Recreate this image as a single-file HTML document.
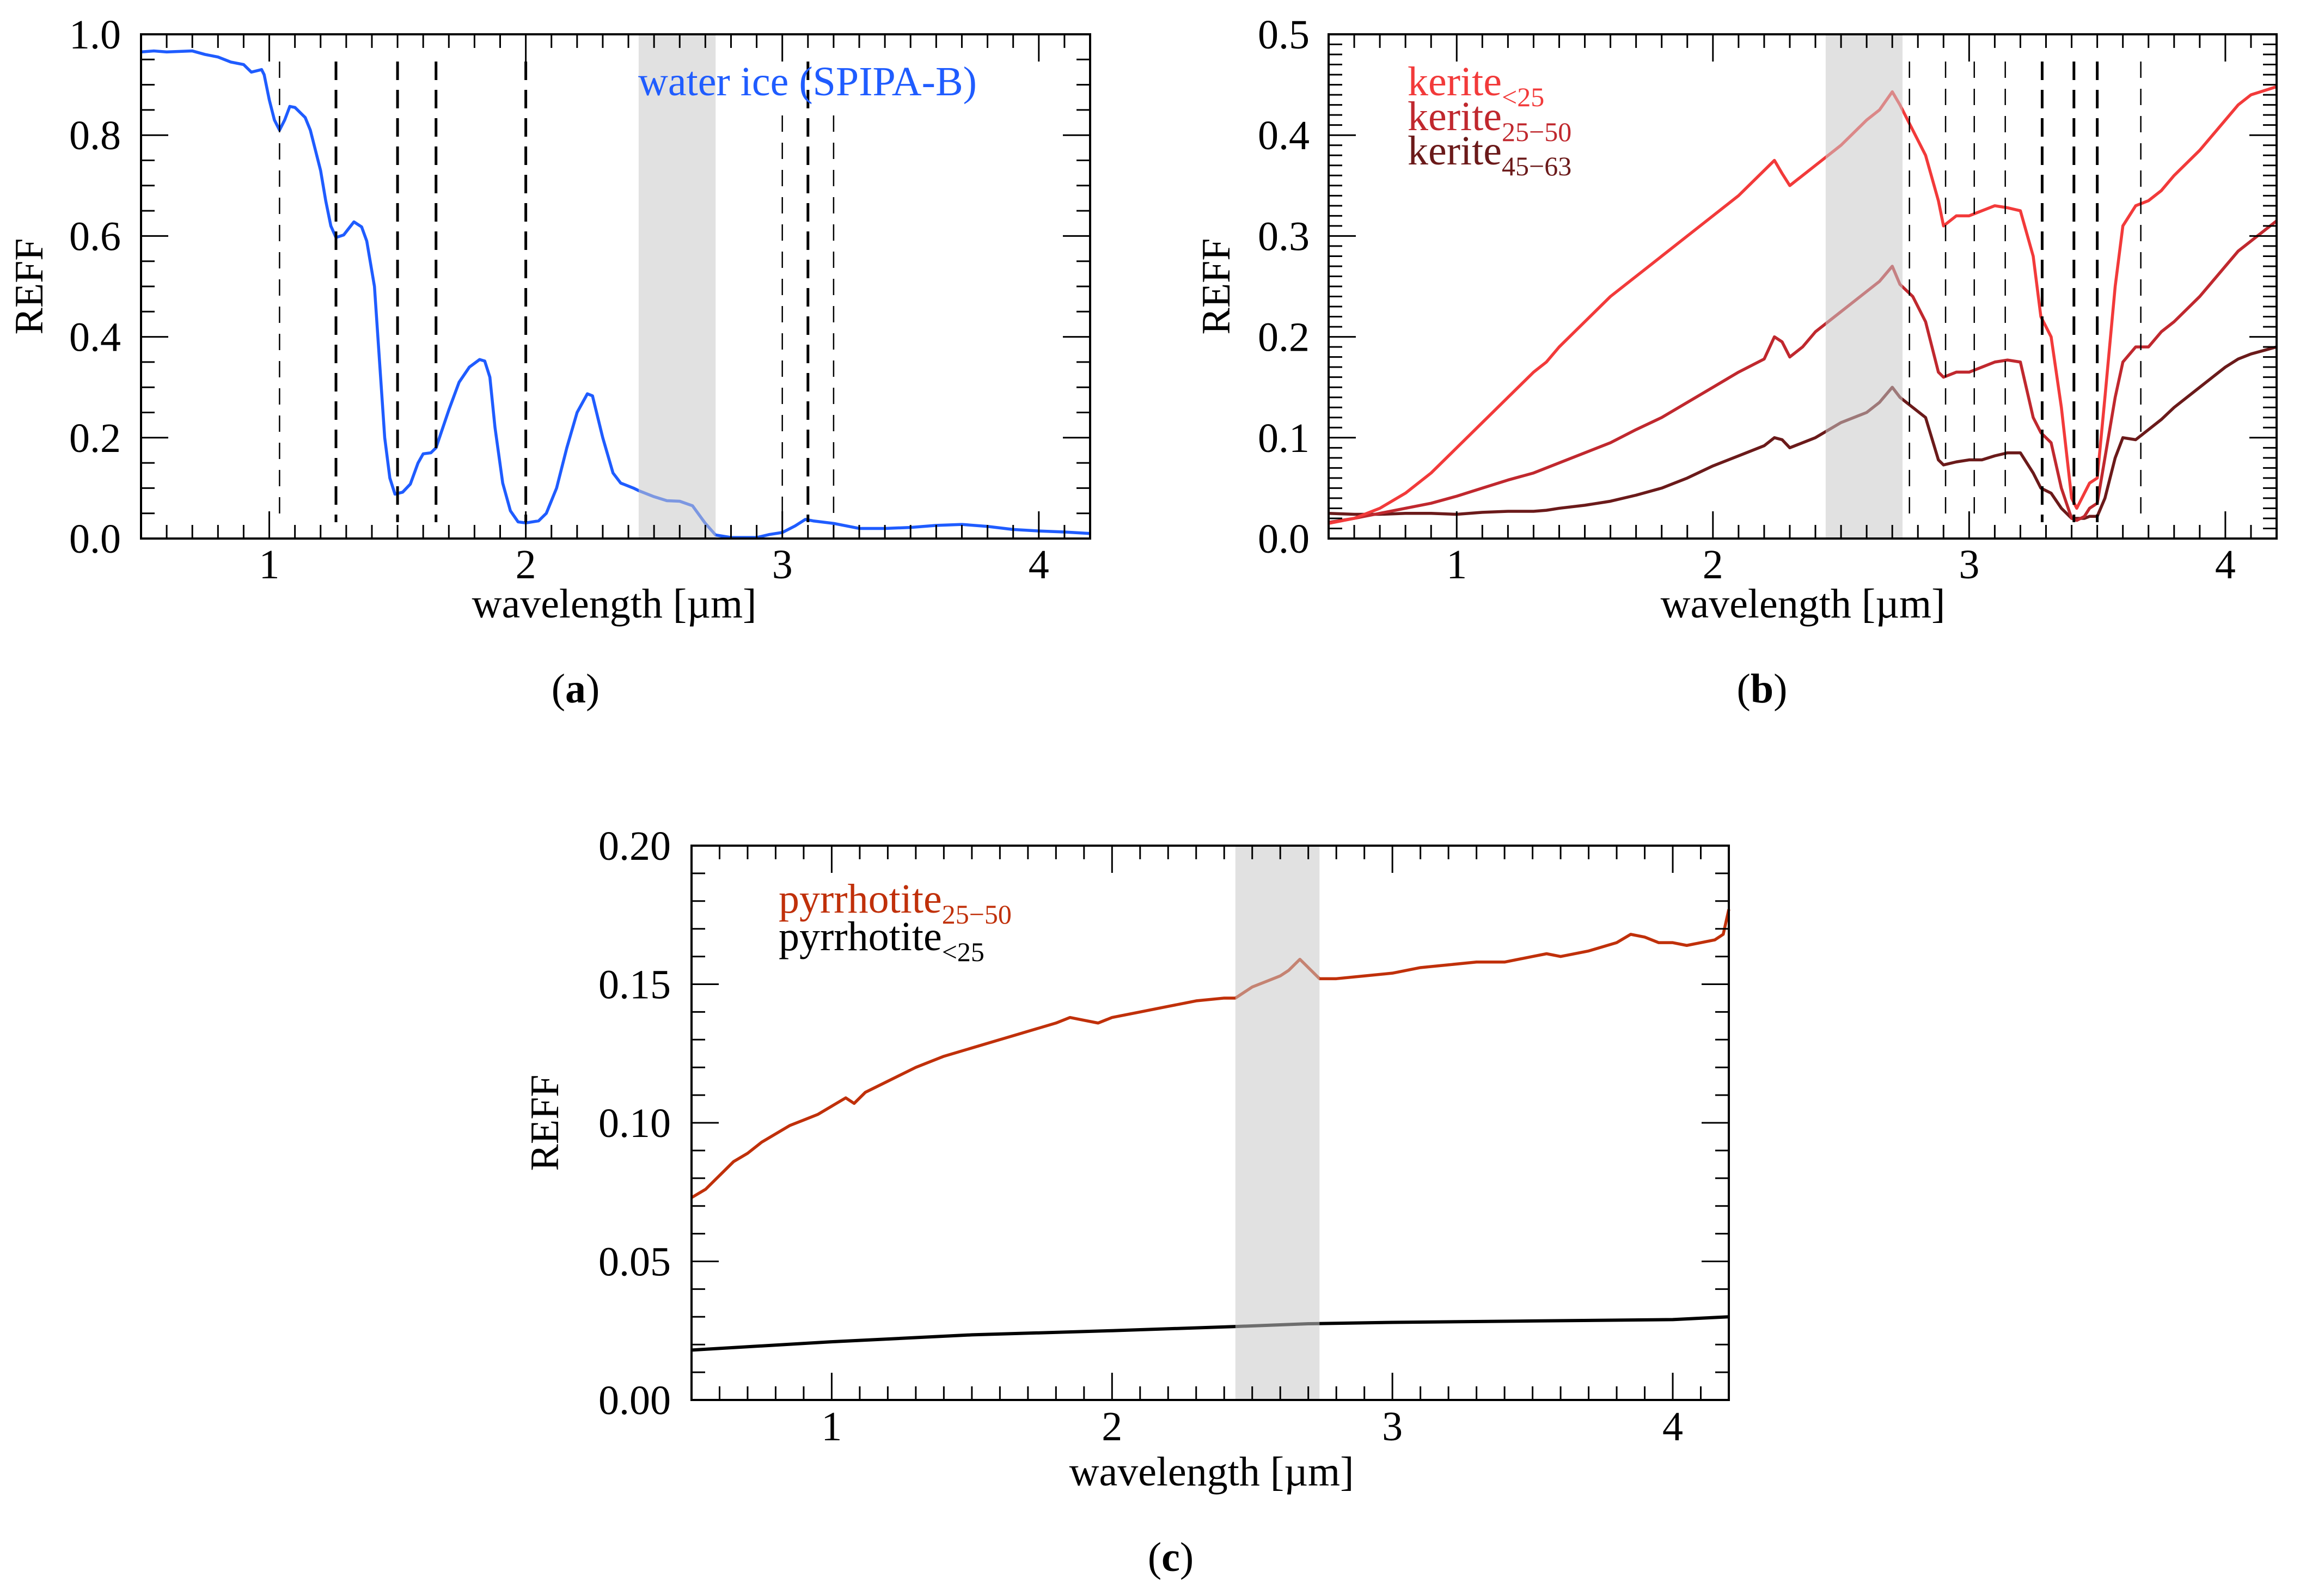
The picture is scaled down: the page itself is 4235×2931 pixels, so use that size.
<!DOCTYPE html>
<html><head><meta charset="utf-8"><style>
html,body{margin:0;padding:0;background:#fff;}
svg{display:block;font-family:"Liberation Serif",serif;}
</style></head><body>
<svg id="fig" width="4235" height="2931" viewBox="0 0 4235 2931" xmlns="http://www.w3.org/2000/svg"></svg>
<script>
// ---- data ----
const waterX=[0.5,0.55,0.6,0.7,0.75,0.8,0.85,0.9,0.93,0.97,0.98,1.0,1.02,1.04,1.06,1.08,1.1,1.14,1.16,1.2,1.22,1.24,1.26,1.29,1.33,1.36,1.38,1.41,1.43,1.45,1.47,1.49,1.52,1.55,1.58,1.6,1.63,1.65,1.7,1.74,1.78,1.82,1.84,1.86,1.88,1.91,1.94,1.97,2.0,2.05,2.08,2.12,2.16,2.2,2.24,2.26,2.3,2.34,2.37,2.42,2.44,2.5,2.55,2.6,2.65,2.7,2.74,2.8,2.9,2.95,3.0,3.05,3.09,3.12,3.2,3.3,3.4,3.5,3.6,3.7,3.8,3.9,4.0,4.1,4.2];
const waterY=[.965,.967,.965,.967,.96,.955,.945,.94,.925,.93,.92,.87,.83,.81,.83,.857,.855,.835,.81,.73,.67,.62,.597,.602,.628,.618,.59,.5,.35,.2,.12,.088,.092,.108,.15,.168,.17,.18,.255,.31,.34,.355,.352,.32,.22,.11,.055,.033,.031,.035,.05,.1,.18,.25,.287,.283,.2,.13,.11,.1,.095,.083,.075,.074,.065,.03,.007,.002,.002,.008,.012,.025,.038,.035,.03,.02,.02,.022,.026,.028,.024,.018,.015,.013,.01];
const keriteX=[0.5,0.6,0.7,0.8,0.9,1.0,1.1,1.2,1.3,1.35,1.4,1.5,1.6,1.7,1.8,1.9,2.0,2.1,2.2,2.24,2.27,2.3,2.35,2.4,2.5,2.6,2.65,2.7,2.73,2.78,2.83,2.88,2.9,2.95,3.0,3.05,3.1,3.15,3.2,3.25,3.28,3.32,3.36,3.4,3.42,3.45,3.47,3.5,3.53,3.57,3.6,3.65,3.7,3.75,3.8,3.9,4.0,4.05,4.1,4.2];
const kerite25=[.015,.02,.03,.045,.065,.09,.115,.14,.165,.175,.19,.215,.24,.26,.28,.3,.32,.34,.365,.375,.362,.35,.36,.37,.39,.415,.425,.443,.43,.405,.38,.335,.31,.32,.32,.325,.33,.328,.325,.28,.22,.2,.13,.04,.03,.045,.055,.06,.14,.25,.31,.33,.335,.345,.36,.385,.415,.43,.44,.448];
const kerite2550=[.016,.02,.025,.03,.035,.042,.05,.058,.065,.07,.075,.085,.095,.108,.12,.135,.15,.165,.178,.2,.195,.18,.19,.205,.225,.245,.255,.27,.252,.24,.215,.165,.16,.165,.165,.17,.175,.177,.175,.12,.105,.095,.05,.02,.018,.022,.03,.035,.08,.14,.175,.19,.19,.205,.215,.24,.27,.285,.295,.315];
const kerite4563=[.025,.024,.024,.025,.025,.024,.026,.027,.027,.028,.03,.033,.037,.043,.05,.06,.072,.082,.092,.1,.098,.09,.095,.1,.115,.125,.135,.15,.14,.13,.12,.078,.073,.076,.078,.078,.082,.085,.085,.065,.05,.045,.03,.02,.02,.02,.022,.022,.04,.08,.1,.098,.108,.118,.13,.15,.17,.178,.183,.19];
const pyrX=[0.5,0.55,0.6,0.65,0.7,0.75,0.8,0.85,0.9,0.95,1.0,1.05,1.08,1.12,1.2,1.3,1.4,1.5,1.6,1.7,1.8,1.85,1.9,1.95,2.0,2.1,2.2,2.3,2.4,2.44,2.5,2.55,2.6,2.63,2.67,2.7,2.74,2.8,2.9,3.0,3.1,3.2,3.3,3.4,3.5,3.55,3.6,3.7,3.8,3.85,3.9,3.95,4.0,4.05,4.1,4.15,4.18,4.2];
const pyr2550=[.073,.076,.081,.086,.089,.093,.096,.099,.101,.103,.106,.109,.107,.111,.115,.12,.124,.127,.13,.133,.136,.138,.137,.136,.138,.14,.142,.144,.145,.145,.149,.151,.153,.155,.159,.156,.152,.152,.153,.154,.156,.157,.158,.158,.16,.161,.16,.162,.165,.168,.167,.165,.165,.164,.165,.166,.168,.177];
const pyrSmallX=[0.5,1.0,1.5,2.0,2.44,2.7,3.0,3.5,4.0,4.2];
const pyrSmall=[.018,.021,.0235,.025,.0265,.0275,.028,.0285,.029,.03];
const xTickLabels=["1","2","3","4"];
const xTickVals=[1,2,3,4];
const bandRange=[2.44,2.74];
const dashA=[1.04,1.26,1.5,1.65,2.0,3.0,3.1,3.2];
const dashAThick=[0,1,1,1,1,0,1,0];
const dashB=[2.767,2.908,3.02,3.141,3.285,3.409,3.5,3.67];
const dashBThick=[0,0,0,0,1,1,1,0];

const NS="http://www.w3.org/2000/svg";
const svg=document.getElementById('fig');
function el(tag,attrs,parent){const e=document.createElementNS(NS,tag);for(const k in attrs)e.setAttribute(k,attrs[k]);(parent||svg).appendChild(e);return e;}
const FS=76;

function panel(cfg){
  const g=el('g',{});
  
  
  const L=cfg.L,R=cfg.R,T=cfg.T,B=cfg.B;
  const sx=v=>L+(v-0.5)/(4.2-0.5)*(R-L);
  const sy=v=>B-(v/cfg.ymax)*(B-T);
  cfg.series.forEach(s=>{
    const p=el('polyline',{points:s.x.map((xv,i)=>sx(xv)+','+sy(s.y[i])).join(' '),fill:'none',stroke:s.color,'stroke-width':s.w||5.5,'stroke-linejoin':'round'},g);
    
    
  });
  const band=el('rect',{x:sx(bandRange[0]),y:T,width:sx(bandRange[1])-sx(bandRange[0]),height:B-T,fill:'rgb(200,200,200)','fill-opacity':0.55},g);
  
  
  (cfg.dash||[]).forEach((d,i)=>{
    const thick=cfg.dashThick[i];
    const y0=(cfg.dashTop&&cfg.dashTop[i])?cfg.dashTop[i]:T+50;
    const ln=el('line',{x1:sx(d),x2:sx(d),y1:y0,y2:B-30,stroke:'#000','stroke-width':thick?5:2.5,'stroke-dasharray':thick?'34 18':'30 20'},g);
    
    
  });
  for(let k=5;k<=42;k++){const v=k/10;const major=(k%10===0);const len=major?50:25;
    const x=sx(v);
    el('line',{x1:x,x2:x,y1:B,y2:B-len,stroke:'#000','stroke-width':3},g);
    el('line',{x1:x,x2:x,y1:T,y2:T+len,stroke:'#000','stroke-width':3},g);
  }
  const nMinor=Math.round(cfg.ymax/cfg.yminor);
  for(let k=0;k<=nMinor;k++){const v=k*cfg.yminor;const major=(Math.abs(v/cfg.ymajor-Math.round(v/cfg.ymajor))<1e-6);const len=major?50:25;
    const y=sy(v);
    el('line',{x1:L,x2:L+len,y1:y,y2:y,stroke:'#000','stroke-width':3},g);
    el('line',{x1:R,x2:R-len,y1:y,y2:y,stroke:'#000','stroke-width':3},g);
  }
  const fr=el('rect',{x:L,y:T,width:R-L,height:B-T,fill:'none',stroke:'#000','stroke-width':4},g);
  
  
  xTickVals.forEach((v,i)=>{const t=el('text',{x:sx(v),y:cfg.xlabY,'text-anchor':'middle','font-size':FS},g);t.textContent=xTickLabels[i];
    });
  cfg.yLabels.forEach(s=>{const v=parseFloat(s);const t=el('text',{x:cfg.ylabR,y:sy(v)+26,'text-anchor':'end','font-size':FS},g);t.textContent=s;
    });
  const xt=el('text',{x:cfg.xtitleX,y:cfg.xtitleY,'text-anchor':'middle','font-size':FS},g);xt.textContent='wavelength [µm]';
  
  const yt=el('text',{x:0,y:0,'text-anchor':'middle','font-size':74,transform:`translate(${cfg.ytitleX},${(T+B)/2}) rotate(-90)`},g);yt.textContent='REFF';
  
  const cap=el('text',{x:cfg.capX,y:cfg.capY,'text-anchor':'middle','font-size':FS},g);
  cap.innerHTML='(<tspan font-weight="bold">'+cfg.cap+'</tspan>)';
  
  cfg.legend.forEach(l=>{const t=el('text',{x:l.x,y:l.y,'font-size':FS,fill:l.color},g);
    t.innerHTML=l.main+(l.sub?'<tspan font-size="50" dy="20">'+l.sub+'</tspan>':'');
    });
}

panel({name:'panel-a',L:259,R:2002,T:63,B:989,ymax:1.0,ymajor:0.2,yminor:0.05,
  series:[{name:'water-ice-line',x:waterX,y:waterY,color:'#1f5cff'}],
  dash:dashA,dashThick:dashAThick,dashTop:[0,0,0,0,0,212,0,212],
  yLabels:['0.0','0.2','0.4','0.6','0.8','1.0'],xlabY:1062,ylabR:222,xtitleX:1128,xtitleY:1134,ytitleX:78,capX:1057,capY:1290,cap:'a',
  legend:[{x:1172,y:175,color:'#1f5cff',main:'water ice (SPIPA-B)'}]});

panel({name:'panel-b',L:2440,R:4181,T:63,B:989,ymax:0.5,ymajor:0.1,yminor:0.01,
  series:[{name:'kerite-45-63-line',x:keriteX,y:kerite4563,color:'#6b1a1a'},
          {name:'kerite-25-50-line',x:keriteX,y:kerite2550,color:'#c0282e'},
          {name:'kerite-lt25-line',x:keriteX,y:kerite25,color:'#f23a3a'}],
  dash:dashB,dashThick:dashBThick,
  yLabels:['0.0','0.1','0.2','0.3','0.4','0.5'],xlabY:1062,ylabR:2405,xtitleX:3311,xtitleY:1134,ytitleX:2258,capX:3236,capY:1290,cap:'b',
  legend:[{x:2585,y:175,color:'#f23a3a',main:'kerite',sub:'&lt;25'},
          {x:2585,y:239,color:'#c0282e',main:'kerite',sub:'25−50'},
          {x:2585,y:302,color:'#6b1a1a',main:'kerite',sub:'45−63'}]});

panel({name:'panel-c',L:1270,R:3175,T:1553,B:2571,ymax:0.2,ymajor:0.05,yminor:0.01,
  series:[{name:'pyrrhotite-25-50-line',x:pyrX,y:pyr2550,color:'#c0300a'},
          {name:'pyrrhotite-lt25-line',x:pyrSmallX,y:pyrSmall,color:'#000',w:6}],
  yLabels:['0.00','0.05','0.10','0.15','0.20'],xlabY:2645,ylabR:1232,xtitleX:2225,xtitleY:2728,ytitleX:1025,capX:2150,capY:2885,cap:'c',
  legend:[{x:1430,y:1676,color:'#c0300a',main:'pyrrhotite',sub:'25−50'},
          {x:1430,y:1745,color:'#000',main:'pyrrhotite',sub:'&lt;25'}]});
</script>
</body></html>
